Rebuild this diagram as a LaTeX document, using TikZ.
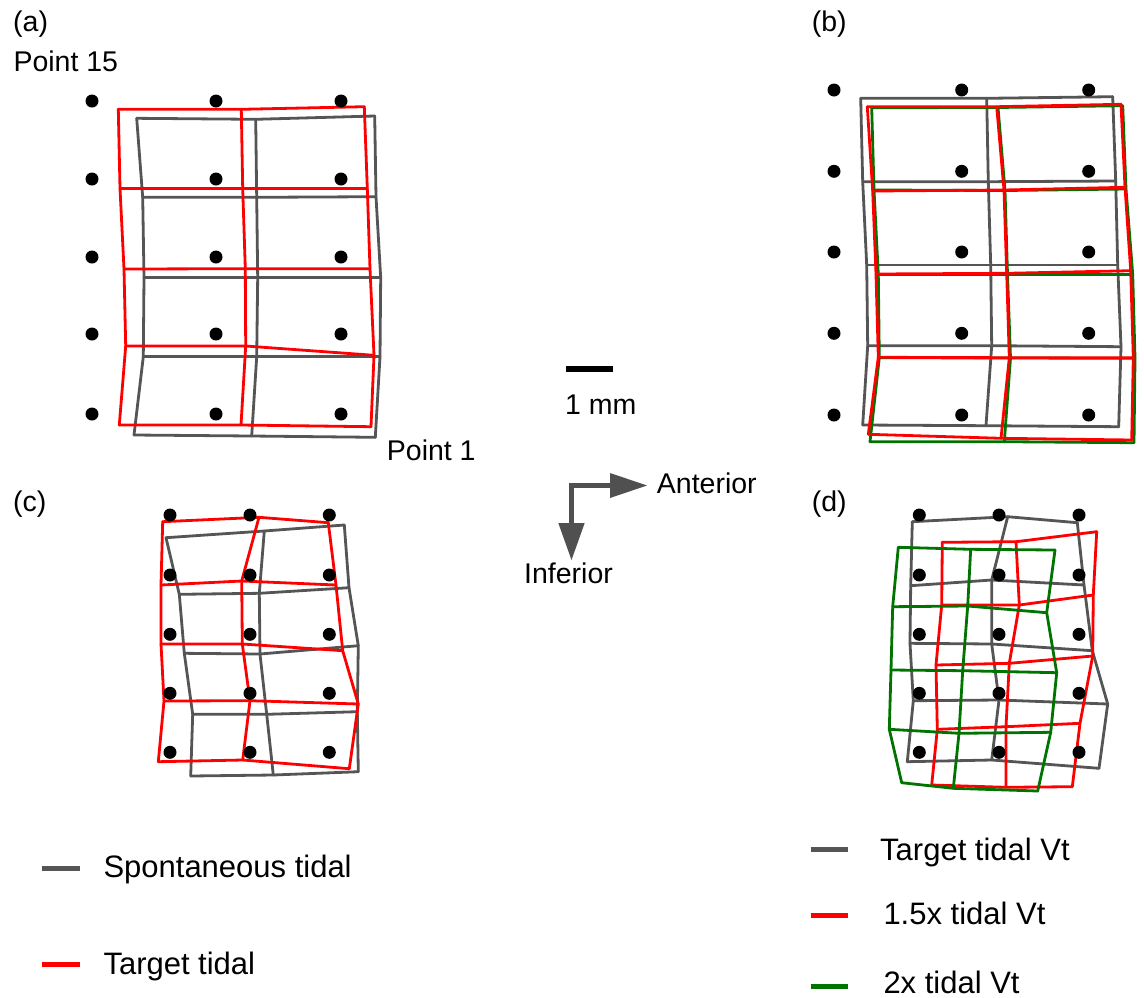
\documentclass[tikz,border=0pt]{standalone}
\usepackage{fontspec}
\setmainfont{Liberation Sans}
\definecolor{gridgray}{RGB}{85,85,85}
\definecolor{gridred}{RGB}{255,0,0}
\definecolor{gridgreen}{RGB}{0,115,0}
\definecolor{arrowgray}{RGB}{80,80,80}
\newcommand\meshpts[2]{%
  \foreach [count=\i from 0] \p in {#2}{%
    \pgfmathtruncatemacro\rr{int(\i/3)+1}%
    \pgfmathtruncatemacro\cc{mod(\i,3)+1}%
    \edef\mytmp{\noexpand\coordinate (#1-\rr-\cc) at \p;}\mytmp}}
\newcommand\meshdraw[2]{%
  \foreach \r in {1,...,5}{\draw[#1] (#2-\r-1) -- (#2-\r-2) -- (#2-\r-3);}
  \foreach \c in {1,2,3}{\draw[#1] (#2-1-\c) -- (#2-2-\c) -- (#2-3-\c) -- (#2-4-\c) -- (#2-5-\c);}}
\newcommand\dotgrid[2]{%
  \foreach \xx in {#1}{\foreach \yy in {#2}{\fill (\xx,\yy) circle (6.5);}}}
\begin{document}
\begin{tikzpicture}[x=1pt,y=-1pt,
  meshline/.style={line width=2.8pt,line cap=round,line join=round},
  gmesh/.style={meshline,gridgray},
  rmesh/.style={meshline,gridred},
  grmesh/.style={meshline,gridgreen},
  lbl/.style={anchor=base west,inner sep=0pt,font=\fontsize{28.5}{32}\selectfont},
  leg/.style={anchor=base west,inner sep=0pt,font=\fontsize{31}{34}\selectfont},
  swatch/.style={line width=5pt}]
\path[use as bounding box] (0,0) rectangle (1144,997);
% ---------- panel (a)
\meshpts{ag}{(136.7,118.3),(255.7,119.3),(374.7,116),
(142.7,197.3),(256.7,197.3),(376,196.7),
(144,277.7),(257.7,277.7),(380.7,277.7),
(143.3,356.7),(256.7,356.7),(380,356.7),
(134,435),(251.7,436),(375.3,437.3)}
\meshpts{ar}{(118.3,109.3),(241.3,109.3),(364.3,106.7),
(120,188.3),(242.7,188.3),(367.3,188.3),
(124,269),(245.3,268.7),(370,268.7),
(125.7,346),(245.7,346),(374,355.3),
(119.3,425),(241,425),(371,426.7)}
\meshdraw{gmesh}{ag}
\meshdraw{rmesh}{ar}
\dotgrid{92,216,341}{101,179,257,334,414}
% ---------- panel (b)
\meshpts{bg}{(860.7,98.3),(986.7,98.3),(1112.7,96.7),
(862.7,181.7),(988.3,181.7),(1115.7,181),
(866.7,265),(990.7,265),(1117.7,265),
(867.7,345.7),(991.7,345.7),(1121,346.7),
(862.7,425),(986,425.7),(1118.7,426.7)}
\meshpts{br}{(867.3,106.7),(996.7,106.7),(1121,104.3),
(872.7,191),(1004,190),(1125,187.3),
(876,274),(1006.7,273.3),(1130.7,270.7),
(878.3,357.3),(1009.3,357.7),(1133.3,357.7),
(868.3,434.3),(1001,438.3),(1131.7,440)}
\meshpts{bgr}{(871.7,107.7),(998,107.5),(1122.7,105.7),
(874,190),(1005,190.5),(1126,189),
(878.3,274.3),(1007.5,274.3),(1132.7,274.3),
(879.3,357.7),(1010.5,358),(1135,358.3),
(870,441.7),(1004.3,441.7),(1134,442.7)}
\meshdraw{gmesh}{bg}
\meshdraw{grmesh}{bgr}
\meshdraw{rmesh}{br}
\dotgrid{834,961.7,1088.7}{90,171.3,252,333.3,415}
% ---------- panel (c)
\meshpts{cg}{(166,537.7),(264.3,531),(344.3,525),
(179.3,594.3),(259.3,593.3),(349,587.7),
(184.3,653.3),(260,654),(358.3,645.7),
(192.7,714.3),(266.7,714.3),(357.3,711.7),
(190.7,776),(273.3,775),(358.3,771.7)}
\meshpts{cr}{(162.7,521.7),(259,517.3),(328.3,522.7),
(161,585),(241.7,581),(336,585),
(161,644),(242.3,644),(342.7,650.7),
(164,701),(250,700.7),(358.3,704),
(158.3,761.7),(242.7,760),(349.3,768.7)}
\meshdraw{gmesh}{cg}
\meshdraw{rmesh}{cr}
\dotgrid{170,250,329.3}{515,575,634.3,693.3,752.3}
% ---------- panel (d)
\meshpts{dg}{(912.3,521.7),(1007.7,516.7),(1077.3,522.7),
(910.7,585.7),(991.7,580),(1084,585),
(910,643.3),(991.7,644),(1092.3,650.7),
(913.3,700.7),(999,700),(1107.7,704),
(907.3,761.7),(991.7,760),(1099,768.3)}
\meshpts{dr}{(942.3,542.3),(1016,541.7),(1096.7,531.7),
(941.7,605),(1019.3,605),(1093.3,595),
(936,665),(1009.3,663.3),(1092.7,656),
(937.3,729.3),(1006,726.7),(1080,723.3),
(931.7,785),(1006,787.3),(1072.3,786.7)}
\meshpts{dgr}{(898.3,547.3),(970.7,549.3),(1055,550),
(892.7,606.7),(967.7,606),(1046.7,612.7),
(891,670),(962.7,670.7),(1056.7,672.7),
(889.3,729.3),(959,733.3),(1050.7,732.3),
(901.7,782.7),(953.3,788.3),(1037.7,791)}
\meshdraw{gmesh}{dg}
\meshdraw{rmesh}{dr}
\meshdraw{grmesh}{dgr}
\dotgrid{919.3,999,1079}{515,575,634.3,693.3,752.3}
% ---------- labels
\node[lbl] (la) at (13,31) {(a)};
\node[lbl] (lb) at (811.7,31) {(b)};
\node[lbl] (lc) at (13,511) {(c)};
\node[lbl] (ld) at (811.7,511) {(d)};
\node[lbl] (p15) at (13.3,71.7) {Point 15};
\node[lbl] (p1) at (386.7,460) {Point 1};
% ---------- scale bar and orientation
\draw[line width=6pt] (566,369.3) -- (612.7,369.3);
\node[lbl] (mm) at (565,414) {1 mm};
\coordinate (elbow) at (571.7,485);
\coordinate (antip) at (647,485.5);
\coordinate (inftip) at (571.5,560);
\draw[arrowgray,line width=5pt,line join=miter] (614,485) -- (elbow) -- (571.7,527);
\fill[arrowgray] (610,473) -- (antip) -- (610,498) -- cycle;
\fill[arrowgray] (558.3,523) -- (inftip) -- (584.7,523) -- cycle;
\node[lbl] (ant) at (656.7,493.3) {Anterior};
\node[lbl] (inf) at (524,583.3) {Inferior};
% ---------- legends
\draw[swatch,gridgray] (41.7,868.3) -- (80,868.3);
\node[leg] (l1) at (103.3,877.7) {Spontaneous tidal};
\draw[swatch,gridred] (41.7,964) -- (80,964);
\node[leg] (l2) at (103.3,974) {Target tidal};
\draw[swatch,gridgray] (810.7,849.3) -- (848.3,849.3);
\node[leg] (r1) at (880,860) {Target tidal Vt};
\draw[swatch,gridred] (810.7,915) -- (848.3,915);
\node[leg] (r2) at (883.3,924) {1.5x tidal Vt};
\draw[swatch,gridgreen] (810.7,986) -- (848.3,986);
\node[leg] (r3) at (883.3,993.5) {2x tidal Vt};
\end{tikzpicture}
\end{document}
